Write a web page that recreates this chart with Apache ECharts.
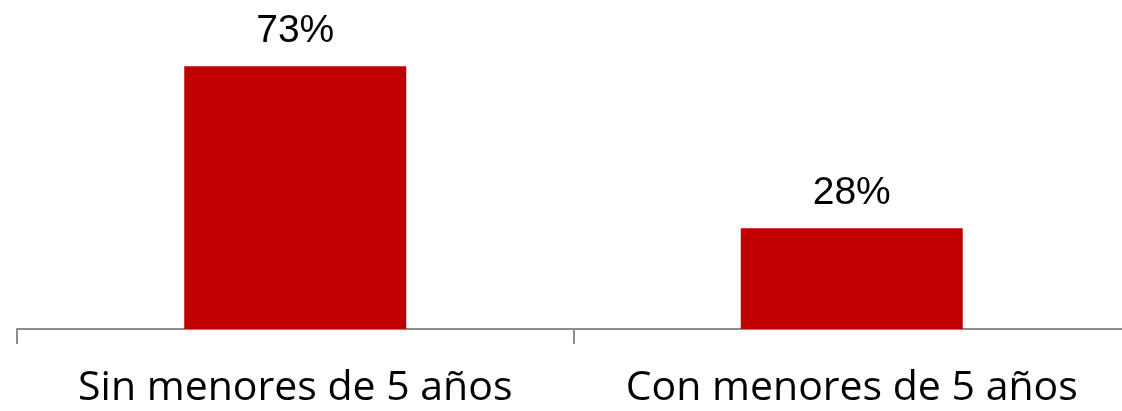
<!DOCTYPE html>
<html>
<head>
<meta charset="utf-8">
<script src="https://cdn.jsdelivr.net/npm/echarts@6/dist/echarts.min.js"></script>
<style>
  html, body { margin: 0; padding: 0; background: #fff; overflow: hidden; }
  /* el eje continúa un poco más allá del borde derecho */
  #chart { width: 1130px; height: 411px; }
</style>
</head>
<body>
<div id="chart"></div>
<script>
// categorías y valores (%)
const categories = ['Sin menores de 5 años', 'Con menores de 5 años']
const values = [73, 28]

const chart = echarts.init(document.getElementById('chart'))

const option = {
  animation: false,
  grid: { left: 17, right: 0, top: 41, bottom: 82 },
  xAxis: {
    type: 'category',
    data: categories,
    axisLine: { lineStyle: { color: '#8c8c8c', width: 2 } },
    axisTick: { show: true, interval: 0, length: 15, lineStyle: { color: '#8c8c8c', width: 2 } },
    axisLabel: {
      interval: 0,
      hideOverlap: false,
      color: '#000',
      fontFamily: 'Open Sans',
      fontSize: 41,
      margin: 39
    }
  },
  yAxis: {
    type: 'value',
    min: 0,
    max: 80,
    show: false,
    splitLine: { show: false }
  },
  series: [
    {
      type: 'bar',
      data: values,
      barWidth: 222,
      itemStyle: { color: '#C00000' },
      label: {
        show: true,
        position: 'top',
        distance: 15,
        formatter: '{c}%',
        color: '#000',
        fontFamily: 'Liberation Sans',
        fontSize: 39
      }
    }
  ]
}

chart.setOption(option)
</script>
</body>
</html>
